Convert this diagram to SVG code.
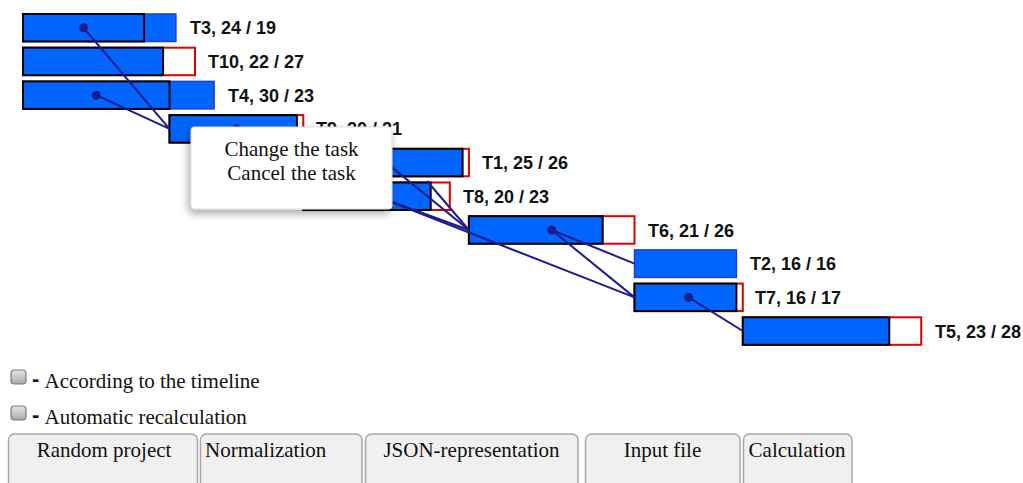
<svg xmlns="http://www.w3.org/2000/svg" width="1023" height="483" viewBox="0 0 1023 483">
<style>
.bg{fill:#ffffff}
.blue{fill:#0066ff;stroke:#000000;stroke-width:2}
.blueb{fill:#0066ff;stroke:#1f3fd0;stroke-width:1.5}
.plan{fill:none;stroke:#000000;stroke-width:2}
.red{fill:#ffffff;stroke:#dd0000;stroke-width:2}
.lbl{font-family:"Liberation Sans",Arial,sans-serif;font-weight:bold;font-size:18px;fill:#111111}
.con line{stroke:#1c1c8e;stroke-width:2}
.dot{fill:#1c1c8e}
.ser{font-family:"Liberation Serif","Times New Roman",serif;font-size:21px;fill:#111111}
.dash{font-family:"Liberation Sans",Arial,sans-serif;font-weight:bold;font-size:22px;fill:#111111}
.btn{fill:#f0f0f0;stroke:#a8a8a8;stroke-width:1.5}
.chk{fill:url(#cg);stroke:#7a7a7a;stroke-width:1.2}
</style>
<defs>
<linearGradient id="cg" x1="0" y1="0" x2="0" y2="1">
<stop offset="0" stop-color="#e6e6e6"/>
<stop offset="1" stop-color="#a8a8a8"/>
</linearGradient>
<filter id="sh" x="-20%" y="-20%" width="140%" height="150%">
<feDropShadow dx="-2" dy="4" stdDeviation="4" flood-color="#000000" flood-opacity="0.35"/>
</filter>
</defs>
<rect class="bg" x="0" y="0" width="1023" height="483"/>

<g id="T3">
<rect class="blueb" x="23" y="14" width="152.9" height="27.5"/>
<rect class="plan" x="23" y="14" width="121" height="27.5"/>
<text class="lbl" x="190" y="34.2">T3, 24 / 19</text>
</g>
<g id="T10">
<rect class="red" x="23" y="47.7" width="172" height="27.5"/>
<rect class="blue" x="23" y="47.7" width="140.1" height="27.5"/>
<text class="lbl" x="208" y="68">T10, 22 / 27</text>
</g>
<g id="T4">
<rect class="blueb" x="23" y="81.4" width="191.1" height="27.5"/>
<rect class="plan" x="23" y="81.4" width="146.5" height="27.5"/>
<text class="lbl" x="228" y="101.7">T4, 30 / 23</text>
</g>
<g id="T9">
<rect class="red" x="169.5" y="115.1" width="133.8" height="27.5"/>
<rect class="blue" x="169.5" y="115.1" width="127.4" height="27.5"/>
<text class="lbl" x="316" y="135.4">T9, 20 / 21</text>
</g>
<g id="T1">
<rect class="red" x="303.3" y="148.8" width="165.6" height="27.5"/>
<rect class="blue" x="303.3" y="148.8" width="159.3" height="27.5"/>
<text class="lbl" x="482" y="169.1">T1, 25 / 26</text>
</g>
<g id="T8">
<rect class="red" x="303.3" y="182.5" width="146.5" height="27.5"/>
<rect class="blue" x="303.3" y="182.5" width="127.4" height="27.5"/>
<text class="lbl" x="463" y="202.8">T8, 20 / 23</text>
</g>
<g id="T6">
<rect class="red" x="468.9" y="216.2" width="165.6" height="27.5"/>
<rect class="blue" x="468.9" y="216.2" width="133.8" height="27.5"/>
<text class="lbl" x="648" y="236.5">T6, 21 / 26</text>
</g>
<g id="T2">
<rect class="blueb" x="634.5" y="249.9" width="101.9" height="27.5"/>
<text class="lbl" x="750" y="270.2">T2, 16 / 16</text>
</g>
<g id="T7">
<rect class="red" x="634.5" y="283.6" width="108.3" height="27.5"/>
<rect class="blue" x="634.5" y="283.6" width="101.9" height="27.5"/>
<text class="lbl" x="755" y="303.9">T7, 16 / 17</text>
</g>
<g id="T5">
<rect class="red" x="742.8" y="317.3" width="178.4" height="27.5"/>
<rect class="blue" x="742.8" y="317.3" width="146.5" height="27.5"/>
<text class="lbl" x="935" y="337.6">T5, 23 / 28</text>
</g>

<g id="connectors" class="con">
<line x1="83.5" y1="27.75" x2="169.5" y2="128.9"/>
<line x1="96.3" y1="95.2" x2="169.5" y2="128.9"/>
<line x1="236.4" y1="128.9" x2="303.3" y2="162.6"/>
<line x1="236.4" y1="128.9" x2="303.3" y2="196.3"/>
<line x1="386.1" y1="162.6" x2="468.9" y2="230"/>
<line x1="376.6" y1="196.3" x2="468.9" y2="230"/>
<line x1="427" y1="181" x2="468.9" y2="230"/>
<line x1="376.6" y1="196.3" x2="634.5" y2="297.4"/>
<line x1="551.7" y1="230" x2="634.5" y2="263.6"/>
<line x1="551.7" y1="230" x2="634.5" y2="297.4"/>
<line x1="688.7" y1="297.4" x2="742.8" y2="331"/>
<circle class="dot" cx="83.5" cy="27.75" r="4.5"/>
<circle class="dot" cx="96.3" cy="95.2" r="4.5"/>
<circle class="dot" cx="236.4" cy="128.9" r="4.5"/>
<circle class="dot" cx="386.1" cy="162.6" r="4.5"/>
<circle class="dot" cx="376.6" cy="196.3" r="4.5"/>
<circle class="dot" cx="551.7" cy="230" r="4.5"/>
<circle class="dot" cx="688.7" cy="297.4" r="4.5"/>
</g>

<g id="popup">
<rect x="191" y="127" width="201" height="82" rx="3" fill="#ffffff" stroke="#dcdcdc" stroke-width="1" filter="url(#sh)"/>
<text class="ser" x="291.5" y="156" text-anchor="middle">Change the task</text>
<text class="ser" x="291.5" y="180" text-anchor="middle">Cancel the task</text>
</g>

<g id="opt-timeline">
<rect class="chk" x="11" y="370" width="15" height="14" rx="3.5"/>
<text class="dash" x="32" y="386">-</text>
<text class="ser" x="44.5" y="388">According to the timeline</text>
</g>
<g id="opt-recalc">
<rect class="chk" x="11" y="406" width="15" height="14" rx="3.5"/>
<text class="dash" x="32" y="421.5">-</text>
<text class="ser" x="44.5" y="423.5">Automatic recalculation</text>
</g>

<g id="btn-random">
<rect class="btn" x="8.5" y="434" width="189" height="60" rx="6"/>
<text class="ser" x="104" y="457" text-anchor="middle">Random project</text>
</g>
<g id="btn-normalization">
<rect class="btn" x="200.5" y="434" width="161.5" height="60" rx="6"/>
<text class="ser" x="205" y="457">Normalization</text>
</g>
<g id="btn-json">
<rect class="btn" x="365.5" y="434" width="212.5" height="60" rx="6"/>
<text class="ser" x="471.5" y="457" text-anchor="middle">JSON-representation</text>
</g>
<g id="btn-input">
<rect class="btn" x="585.5" y="434" width="154.5" height="60" rx="6"/>
<text class="ser" x="662.5" y="457" text-anchor="middle">Input file</text>
</g>
<g id="btn-calc">
<rect class="btn" x="743.5" y="434" width="108.5" height="60" rx="6"/>
<text class="ser" x="797" y="457" text-anchor="middle">Calculation</text>
</g>
</svg>
